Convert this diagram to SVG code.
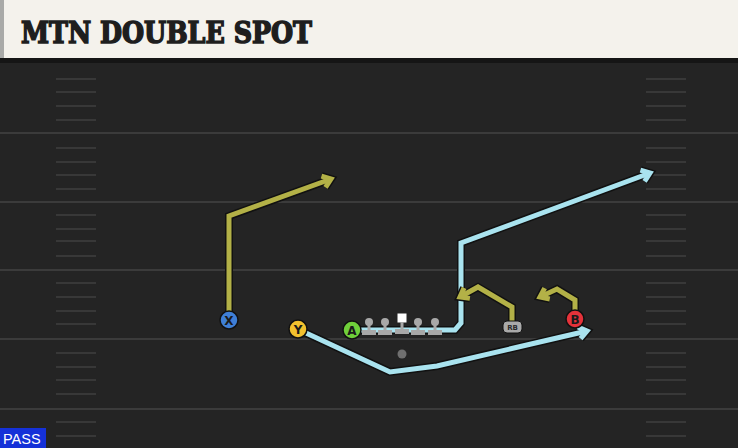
<svg xmlns="http://www.w3.org/2000/svg" width="738" height="448" viewBox="0 0 738 448">
<defs>
<style>
.fl{stroke:#3b3b3b;stroke-width:2}
.hash{stroke:#383838;stroke-width:2}
.ol{fill:none;stroke:#111;stroke-width:8;stroke-linejoin:miter;stroke-linecap:butt}
.olive{fill:none;stroke:#b3b147;stroke-width:5;stroke-linejoin:miter}
.blue{fill:none;stroke:#a9e3ef;stroke-width:5;stroke-linejoin:miter}
.lbl{font-family:"DejaVu Sans","Liberation Sans",sans-serif;font-weight:bold;font-size:12px;fill:#1a1a1a;text-anchor:middle}
.pl{stroke:#111;stroke-width:1.5}
.ln{fill:#a8a8a8}
</style>
<marker id="mO" markerUnits="userSpaceOnUse" viewBox="-12 -10 16 20" markerWidth="16" markerHeight="20" refX="0" refY="0" orient="auto" overflow="visible">
<path d="M -8 -6 L 0 0 L -8 6" fill="none" stroke="#b3b147" stroke-width="5"/>
</marker>
<marker id="mB" markerUnits="userSpaceOnUse" viewBox="-12 -10 16 20" markerWidth="16" markerHeight="20" refX="0" refY="0" orient="auto" overflow="visible">
<path d="M -8 -6 L 0 0 L -8 6" fill="none" stroke="#a9e3ef" stroke-width="5"/>
</marker>
<marker id="mK" markerUnits="userSpaceOnUse" viewBox="-12 -10 16 20" markerWidth="16" markerHeight="20" refX="0" refY="0" orient="auto" overflow="visible">
<path d="M -8 -6 L 0 0 L -8 6" fill="none" stroke="#111" stroke-width="8"/>
</marker>
</defs>

<g id="field">
<rect x="0" y="0" width="738" height="448" fill="#242424"/>
<rect x="0" y="58" width="738" height="5" fill="#151515"/>
<line class="fl" x1="0" y1="133" x2="738" y2="133"/>
<line class="fl" x1="0" y1="202" x2="738" y2="202"/>
<line class="fl" x1="0" y1="270" x2="738" y2="270"/>
<line class="fl" x1="0" y1="339" x2="738" y2="339"/>
<line class="fl" x1="0" y1="409" x2="738" y2="409"/>
<g id="hashes-left">
<line class="hash" x1="56" y1="79" x2="96" y2="79"/><line class="hash" x1="56" y1="92" x2="96" y2="92"/><line class="hash" x1="56" y1="106" x2="96" y2="106"/><line class="hash" x1="56" y1="120" x2="96" y2="120"/>
<line class="hash" x1="56" y1="148" x2="96" y2="148"/><line class="hash" x1="56" y1="162" x2="96" y2="162"/><line class="hash" x1="56" y1="175" x2="96" y2="175"/><line class="hash" x1="56" y1="189" x2="96" y2="189"/>
<line class="hash" x1="56" y1="215" x2="96" y2="215"/><line class="hash" x1="56" y1="229" x2="96" y2="229"/><line class="hash" x1="56" y1="241" x2="96" y2="241"/><line class="hash" x1="56" y1="256" x2="96" y2="256"/>
<line class="hash" x1="56" y1="283" x2="96" y2="283"/><line class="hash" x1="56" y1="297" x2="96" y2="297"/><line class="hash" x1="56" y1="311" x2="96" y2="311"/><line class="hash" x1="56" y1="324" x2="96" y2="324"/>
<line class="hash" x1="56" y1="353" x2="96" y2="353"/><line class="hash" x1="56" y1="367" x2="96" y2="367"/><line class="hash" x1="56" y1="380" x2="96" y2="380"/><line class="hash" x1="56" y1="394" x2="96" y2="394"/>
<line class="hash" x1="56" y1="422" x2="96" y2="422"/><line class="hash" x1="56" y1="436" x2="96" y2="436"/>
</g>
<g id="hashes-right">
<line class="hash" x1="646" y1="79" x2="686" y2="79"/><line class="hash" x1="646" y1="92" x2="686" y2="92"/><line class="hash" x1="646" y1="106" x2="686" y2="106"/><line class="hash" x1="646" y1="120" x2="686" y2="120"/>
<line class="hash" x1="646" y1="148" x2="686" y2="148"/><line class="hash" x1="646" y1="162" x2="686" y2="162"/><line class="hash" x1="646" y1="175" x2="686" y2="175"/><line class="hash" x1="646" y1="189" x2="686" y2="189"/>
<line class="hash" x1="646" y1="215" x2="686" y2="215"/><line class="hash" x1="646" y1="229" x2="686" y2="229"/><line class="hash" x1="646" y1="241" x2="686" y2="241"/><line class="hash" x1="646" y1="256" x2="686" y2="256"/>
<line class="hash" x1="646" y1="283" x2="686" y2="283"/><line class="hash" x1="646" y1="297" x2="686" y2="297"/><line class="hash" x1="646" y1="311" x2="686" y2="311"/><line class="hash" x1="646" y1="324" x2="686" y2="324"/>
<line class="hash" x1="646" y1="353" x2="686" y2="353"/><line class="hash" x1="646" y1="367" x2="686" y2="367"/><line class="hash" x1="646" y1="380" x2="686" y2="380"/><line class="hash" x1="646" y1="394" x2="686" y2="394"/>
<line class="hash" x1="646" y1="422" x2="686" y2="422"/><line class="hash" x1="646" y1="436" x2="686" y2="436"/>
</g>
</g>

<g id="header">
<rect x="0" y="0" width="738" height="58" fill="#f4f2ec"/>
<rect x="0" y="0" width="4" height="58" fill="#a9aaa8"/>
<text transform="translate(21,43) scale(1,1.15)" x="0" y="0" font-family="'DejaVu Serif',serif" font-weight="bold" font-size="26" fill="#1e1e1e" stroke="#1e1e1e" stroke-width="1.4" stroke-linejoin="miter" textLength="291" lengthAdjust="spacingAndGlyphs">MTN DOUBLE SPOT</text>
</g>

<g id="connectors">
<g id="route-x">
<path class="ol" d="M 229 312 L 229 216 L 331 179" marker-end="url(#mK)"/>
<path class="olive" d="M 229 312 L 229 216 L 331 179" marker-end="url(#mO)"/>
</g>
<g id="route-a">
<path class="ol" d="M 360 330 L 455 330 L 461 323 L 461 243 L 650 173" marker-end="url(#mK)"/>
<path class="blue" d="M 360 330 L 455 330 L 461 323 L 461 243 L 650 173" marker-end="url(#mB)"/>
</g>
<g id="route-y">
<path class="ol" d="M 306 333 L 390 372 L 437 366 L 587 331" marker-end="url(#mK)"/>
<path class="blue" d="M 306 333 L 390 372 L 437 366 L 587 331" marker-end="url(#mB)"/>
</g>
<g id="route-rb">
<path class="ol" d="M 512 322 L 512 307 L 478 287 L 460 297" marker-end="url(#mK)"/>
<path class="olive" d="M 512 322 L 512 307 L 478 287 L 460 297" marker-end="url(#mO)"/>
</g>
<g id="route-b">
<path class="ol" d="M 575 311 L 575 300 L 557 289 L 540 297" marker-end="url(#mK)"/>
<path class="olive" d="M 575 311 L 575 300 L 557 289 L 540 297" marker-end="url(#mO)"/>
</g>
</g>

<g id="line">
<g id="lt"><circle class="ln" cx="369" cy="322" r="4"/><rect class="ln" x="367.5" y="322" width="3" height="9"/><rect class="ln" x="362" y="330" width="14" height="5"/></g>
<g id="lg"><circle class="ln" cx="385" cy="322" r="4"/><rect class="ln" x="383.5" y="322" width="3" height="9"/><rect class="ln" x="378" y="330" width="14" height="5"/></g>
<g id="c"><rect x="397.5" y="313.5" width="9" height="9" fill="#ffffff"/><rect class="ln" x="400.5" y="322" width="3" height="8"/><rect class="ln" x="395" y="329" width="14" height="5"/></g>
<g id="rg"><circle class="ln" cx="418" cy="322" r="4"/><rect class="ln" x="416.5" y="322" width="3" height="9"/><rect class="ln" x="411" y="330" width="14" height="5"/></g>
<g id="rt"><circle class="ln" cx="435" cy="322" r="4"/><rect class="ln" x="433.5" y="322" width="3" height="9"/><rect class="ln" x="428" y="330" width="14" height="5"/></g>
</g>

<g id="qb"><circle cx="402" cy="354" r="4.5" fill="#6f6f6f"/></g>

<g id="player-x"><circle class="pl" cx="229" cy="320" r="9" fill="#3f7fd6"/><text class="lbl" x="229" y="324.5">X</text></g>
<g id="player-y"><circle class="pl" cx="298" cy="329" r="9" fill="#f2c12e"/><text class="lbl" x="298" y="333.5">Y</text></g>
<g id="player-a"><circle class="pl" cx="352" cy="330" r="9" fill="#6fcf3a"/><text class="lbl" x="352" y="334.5">A</text></g>
<g id="player-rb"><rect x="503" y="321" width="19" height="12" rx="4" fill="#a9a9a9" stroke="#111" stroke-width="1"/><text x="512.5" y="330" font-family="'DejaVu Sans',sans-serif" font-size="7" font-weight="bold" fill="#2a2a2a" text-anchor="middle">RB</text></g>
<g id="player-b"><circle class="pl" cx="575" cy="319" r="9" fill="#e5323a"/><text class="lbl" x="575" y="323.5">B</text></g>

<g id="pass">
<rect x="0" y="428" width="46" height="20" fill="#1531d8"/>
<text x="3" y="444" font-family="'Liberation Sans','DejaVu Sans',sans-serif" font-size="14.5" fill="#ffffff">PASS</text>
</g>
</svg>
